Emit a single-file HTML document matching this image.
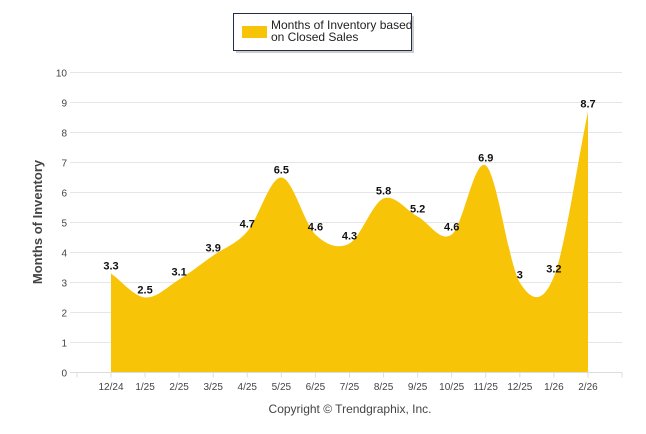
<!DOCTYPE html>
<html><head><meta charset="utf-8"><style>
body{margin:0;background:#fff;font-family:"Liberation Sans",Arial,sans-serif}
</style></head><body>
<svg width="646" height="434" style="display:block">
<g id="grid"></g>
<g id="area"></g>
<g id="labels"></g>
<g id="xaxis"></g>
<g>
<rect x="236" y="16" width="178" height="37" fill="#999" opacity="0.5"/>
<rect x="233.5" y="13.5" width="178" height="37" fill="#fff" stroke="#1f2d4d" stroke-width="1"/>
<rect x="242" y="26" width="25" height="12" fill="#F7C408"/>
<text x="271" y="29" font-size="12" fill="#222">Months of Inventory based</text>
<text x="271" y="41" font-size="12" fill="#222">on Closed Sales</text>
</g>
<text transform="translate(42,222) rotate(-90)" text-anchor="middle" font-size="13" font-weight="bold" fill="#444">Months of Inventory</text>
<text x="350" y="413" text-anchor="middle" font-size="12" fill="#444">Copyright © Trendgraphix, Inc.</text>
</svg>
<script>
const categories=["12/24","1/25","2/25","3/25","4/25","5/25","6/25","7/25","8/25","9/25","10/25","11/25","12/25","1/26","2/26"];
const values=[3.3,2.5,3.1,3.9,4.7,6.5,4.6,4.3,5.8,5.2,4.6,6.9,3,3.2,8.7];
const yTicks=[0,1,2,3,4,5,6,7,8,9,10];
const NS="http://www.w3.org/2000/svg";
const X0=111,DX=34.07,Y0=372.5,KY=30,XL=70,XR=622;
const xs=i=>X0+i*DX, ys=v=>Y0-v*KY;
function mk(t,a,p){const e=document.createElementNS(NS,t);for(const k in a)e.setAttribute(k,a[k]);p.appendChild(e);return e;}
const grid=document.getElementById('grid');
yTicks.forEach(t=>{
 const l=mk('line',{x1:XL,x2:XR,y1:ys(t),y2:ys(t),stroke:'#e6e6e6','stroke-width':1},grid);
 
 
 const tx=mk('text',{x:67,y:ys(t)+4,'text-anchor':'end','font-size':10,fill:'#444'},grid);
 tx.textContent=t;
 
 
});
// Catmull-Rom area
let d=`M${xs(0)},${Y0} L${xs(0)},${ys(values[0])}`;
const n=values.length;
for(let i=0;i<n-1;i++){
 const p0=values[Math.max(0,i-1)],p1=values[i],p2=values[i+1],p3=values[Math.min(n-1,i+2)];
 const i0=Math.max(0,i-1),i3=Math.min(n-1,i+2);
 const m1=(p2-p0)/(i+1-i0),m2=(p3-p1)/(i3-i);
 const c1x=xs(i)+DX/3,c1y=ys(p1+m1/3),c2x=xs(i+1)-DX/3,c2y=ys(p2-m2/3);
 d+=` C${c1x},${c1y} ${c2x},${c2y} ${xs(i+1)},${ys(p2)}`;
}
d+=` L${xs(n-1)},${Y0} Z`;
const area=mk('path',{d:d,fill:'#F7C408'},document.getElementById('area'));


const lab=document.getElementById('labels');
values.forEach((v,i)=>{
 const t=mk('text',{x:xs(i),y:ys(v)-4,'text-anchor':'middle','font-size':11,'font-weight':'bold',fill:'#111'},lab);
 t.textContent=v;
 
 
});
const xa=document.getElementById('xaxis');
mk('line',{x1:XL,x2:XR,y1:Y0,y2:Y0,stroke:'#ddd'},xa);
mk('line',{x1:xs(-1),x2:xs(-1),y1:Y0,y2:Y0+5,stroke:'#ddd'},xa);
mk('line',{x1:XR,x2:XR,y1:Y0,y2:Y0+5,stroke:'#ddd'},xa);
categories.forEach((c,i)=>{
 mk('line',{x1:xs(i),x2:xs(i),y1:Y0,y2:Y0+5,stroke:'#ddd'},xa);
 const t=mk('text',{x:xs(i),y:390,'text-anchor':'middle','font-size':10,fill:'#444'},xa);
 t.textContent=c;
 
 
});
</script>
</body></html>
